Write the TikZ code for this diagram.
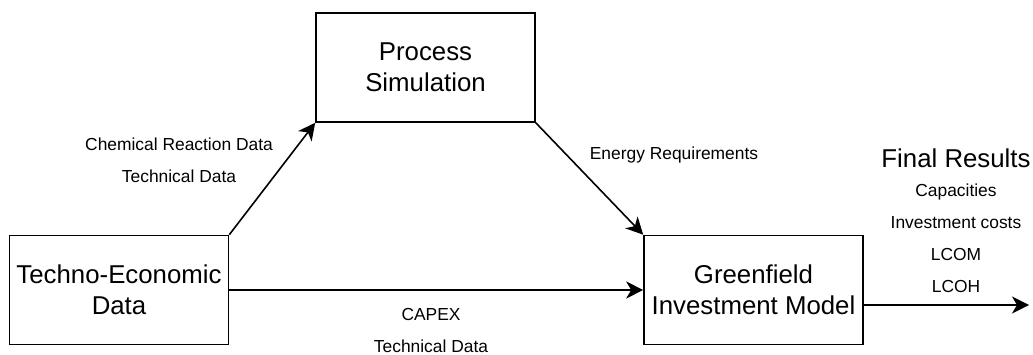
\documentclass[tikz,border=0pt]{standalone}
\usepackage{fontspec}
\setmainfont{Liberation Sans}
\usetikzlibrary{arrows.meta}
\begin{document}
\begin{tikzpicture}[x=1pt, y=-1pt,
    block/.style={draw, line width=1.6pt, minimum width=219pt, minimum height=109pt,
      inner sep=0pt, align=center, font=\fontsize{25.8}{31.5}\selectfont},
    flow/.style={line width=1.6pt, -{Stealth[length=17pt,width=17pt,inset=5pt]}},
    lbl/.style={align=center, font=\fontsize{17.4}{32}\selectfont}]
  \useasboundingbox (0,0) rectangle (1033,355);

  % boxes
  \node[block] (proc)  at (425.5,67.5) {Process\\Simulation};
  \node[block] (tech)  at (119,290)    {Techno-Economic\\Data};
  \node[block] (green) at (753.5,290)  {Greenfield\\Investment Model};
  \coordinate (out) at (1029,305);

  % arrows
  \draw[flow] (tech.north east) -- (proc.south west);
  \draw[flow] (proc.south east) -- (green.north west);
  \draw[flow] (tech.east) -- (green.west);
  \draw[flow] (green.east |- out) -- (out);

  % labels
  \node[lbl] (chem)   at (179,160) {Chemical Reaction Data\\Technical Data};
  \node[lbl] (energy) at (674,155) {Energy Requirements};
  \node[lbl] (capex)  at (431,331) {CAPEX\\Technical Data};
  \node[font=\fontsize{25.8}{30}\selectfont] (final) at (956,158) {Final Results};
  \node[lbl] (res)    at (956,238) {Capacities\\Investment costs\\LCOM\\LCOH};
\end{tikzpicture}
\end{document}
